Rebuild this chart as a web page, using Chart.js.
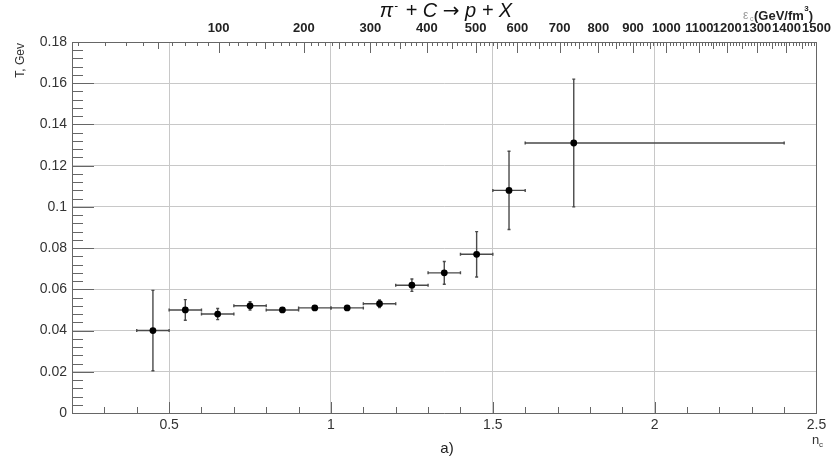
<!DOCTYPE html>
<html><head><meta charset="utf-8">
<script src="https://cdn.jsdelivr.net/npm/chart.js@4"></script>
<style>html,body{margin:0;padding:0;background:#fff}</style>
</head><body>
<canvas id="c" width="837" height="461"></canvas>
<script>
// ---- data ----
const nC    = [0.45, 0.55, 0.65, 0.75, 0.85, 0.95, 1.05, 1.15, 1.25, 1.35, 1.45, 1.55, 1.75];
const nLow  = [0.40, 0.50, 0.60, 0.70, 0.80, 0.90, 1.00, 1.10, 1.20, 1.30, 1.40, 1.50, 1.60];
const nHigh = [0.50, 0.60, 0.70, 0.80, 0.90, 1.00, 1.10, 1.20, 1.30, 1.40, 1.50, 1.60, 2.40];
const T     = [0.040, 0.050, 0.048, 0.052, 0.050, 0.051, 0.051, 0.053, 0.062, 0.068, 0.077, 0.108, 0.131];
const TErr  = [0.0195, 0.005, 0.0027, 0.002, 0.001, 0.001, 0.001, 0.0018, 0.003, 0.0055, 0.011, 0.019, 0.031];

const xTicks = [0.5, 1, 1.5, 2, 2.5];
const yTicks = [0, 0.02, 0.04, 0.06, 0.08, 0.1, 0.12, 0.14, 0.16, 0.18];
const epsLabels = [100, 200, 300, 400, 500, 600, 700, 800, 900, 1000, 1100, 1200, 1300, 1400, 1500];
const epsTickN  = [0.653, 0.916, 1.122, 1.296, 1.447, 1.576, 1.706, 1.826, 1.933, 2.036, 2.138, 2.224, 2.315, 2.407, 2.500];

const FONT = '"Liberation Sans", Arial, "DejaVu Sans", sans-serif';
const AXIS = '#666';

function epsToN(e) {
  let i = 0;
  while (i < epsLabels.length - 2 && e > epsLabels[i + 1]) i++;
  const s0 = Math.sqrt(epsLabels[i]), s1 = Math.sqrt(epsLabels[i + 1]);
  return epsTickN[i] + (Math.sqrt(e) - s0) / (s1 - s0) * (epsTickN[i + 1] - epsTickN[i]);
}

const bgPlugin = {
  id: 'bg',
  beforeDraw(chart) {
    const c = chart.ctx; c.save(); c.fillStyle = '#fff';
    c.fillRect(0, 0, chart.width, chart.height); c.restore();
  }
};

const errPlugin = {
  id: 'errbars',
  beforeDatasetsDraw(chart) {
    const c = chart.ctx, xs = chart.scales.x, ys = chart.scales.y;
    c.save();
    c.strokeStyle = '#4a4a4a'; c.lineWidth = 1.4;
    for (let i = 0; i < nC.length; i++) {
      const px = xs.getPixelForValue(nC[i]), py = ys.getPixelForValue(T[i]);
      const yt = ys.getPixelForValue(T[i] + TErr[i]), yb = ys.getPixelForValue(T[i] - TErr[i]);
      const xl = xs.getPixelForValue(nLow[i]), xr = xs.getPixelForValue(nHigh[i]);
      c.beginPath();
      c.moveTo(px, yt); c.lineTo(px, yb);
      c.moveTo(xl, py); c.lineTo(xr, py);
      c.moveTo(px - 1.5, yt); c.lineTo(px + 1.5, yt);
      c.moveTo(px - 1.5, yb); c.lineTo(px + 1.5, yb);
      c.moveTo(xl, py - 1.5); c.lineTo(xl, py + 1.5);
      c.moveTo(xr, py - 1.5); c.lineTo(xr, py + 1.5);
      c.stroke();
    }
    c.restore();
  }
};

const decoPlugin = {
  id: 'deco',
  afterDraw(chart) {
    const c = chart.ctx, a = chart.chartArea, xs = chart.scales.x, ys = chart.scales.y;
    c.save();
    c.strokeStyle = AXIS; c.lineWidth = 1;
    c.beginPath();
    c.moveTo(Math.round(a.right) - 0.5, a.top); c.lineTo(Math.round(a.right) - 0.5, a.bottom);
    for (let k = 3; k <= 24; k++) {
      const v = k / 10;
      const px = Math.round(xs.getPixelForValue(v)) + 0.5;
      const len = (k % 5 === 0) ? 11 : 6;
      c.moveTo(px, a.bottom); c.lineTo(px, a.bottom - len);
    }
    for (let k = 1; k < 45; k++) {
      const v = k * 0.004;
      const py = Math.round(ys.getPixelForValue(v)) + 0.5;
      const len = (k % 5 === 0) ? 22 : 11;
      c.moveTo(a.left, py); c.lineTo(a.left + len, py);
    }
    for (let e = 10; e < 1500; e += 10) {
      const n = epsToN(e);
      if (n < 0.2) continue;
      const px = Math.round(xs.getPixelForValue(n)) + 0.5;
      const len = (e % 100 === 0) ? 11 : (e % 50 === 0 ? 7 : 4);
      c.moveTo(px, a.top); c.lineTo(px, a.top + len);
    }
    c.stroke();

    // title
    c.fillStyle = '#111';
    c.textBaseline = 'alphabetic';
    c.textAlign = 'left';
    const big = 'italic 20px ' + FONT, sm = 'italic 11px ' + FONT;
    const arr = '20px "DejaVu Sans", sans-serif';
    c.font = big; const w1 = c.measureText('π').width;
    c.font = sm; const w2 = c.measureText('-').width + 3;
    c.font = big; const w3 = c.measureText(' + C ').width;
    c.font = arr; const w4 = c.measureText('\u2192').width;
    c.font = big; const w5 = c.measureText(' p + X').width;
    let tx = 446 - (w1 + w2 + w3 + w4 + w5) / 2;
    c.font = big; c.fillText('π', tx, 17); tx += w1;
    c.font = sm; c.fillText('-', tx + 1, 9); tx += w2;
    c.font = big; c.fillText(' + C ', tx, 17); tx += w3;
    c.font = arr; c.fillText('\u2192', tx, 17); tx += w4;
    c.font = big; c.fillText(' p + X', tx, 17);

    // top axis title
    c.fillStyle = '#999';
    c.font = '12px ' + FONT; c.fillText('ε', 743, 19);
    c.font = '7px ' + FONT; c.fillText('c', 750, 21);
    c.fillStyle = '#222';
    c.font = 'bold 13px ' + FONT;
    const p1 = '(GeV/fm';
    c.fillText(p1, 754, 20);
    const wp = c.measureText(p1).width;
    c.font = 'bold 8px ' + FONT; c.fillText('3', 754 + wp + 0.5, 11);
    c.font = 'bold 13px ' + FONT; c.fillText(')', 754 + wp + 5, 20);

    // y title
    c.save();
    c.translate(21, 43); c.rotate(-Math.PI / 2);
    c.textAlign = 'right'; c.textBaseline = 'middle';
    c.fillStyle = '#333'; c.font = '12px ' + FONT;
    c.fillText('T, Gev', 0, 0);
    c.restore();

    // x title
    c.fillStyle = '#333'; c.textAlign = 'left';
    c.font = '13px ' + FONT; c.fillText('n', 812, 444);
    c.font = '8px ' + FONT; c.fillText('c', 819, 447);

    // panel label
    c.textAlign = 'center'; c.fillStyle = '#222';
    c.font = '15px ' + FONT; c.fillText('a)', 447, 453);
    c.restore();
  }
};

new Chart(document.getElementById('c').getContext('2d'), {
  type: 'scatter',
  data: {
    datasets: [{
      data: nC.map((x, i) => ({ x: x, y: T[i] })),
      backgroundColor: '#000', borderColor: '#000',
      pointRadius: 3.4, pointHoverRadius: 3.4, borderWidth: 0
    }]
  },
  options: {
    responsive: false, animation: false, devicePixelRatio: 1,
    layout: { padding: { left: 0, right: 13.5, top: 0, bottom: 0 } },
    plugins: { legend: { display: false }, tooltip: { enabled: false } },
    scales: {
      x: {
        type: 'linear', position: 'bottom', min: 0.2, max: 2.5,
        afterBuildTicks: s => { s.ticks = xTicks.map(v => ({ value: v })); },
        afterFit: s => { s.height = 48; },
        grid: { color: '#c8c8c8', lineWidth: 1, drawTicks: false },
        border: { display: true, color: AXIS, width: 1 },
        ticks: { padding: 4, maxRotation: 0, autoSkip: false, color: '#333',
                 font: { family: FONT, size: 14 }, callback: v => String(v) }
      },
      x2: {
        type: 'linear', position: 'top', min: 0.2, max: 2.5,
        afterBuildTicks: s => { s.ticks = epsTickN.map(v => ({ value: v })); },
        afterFit: s => { s.height = 42; },
        grid: { display: false, drawOnChartArea: false, drawTicks: false },
        border: { display: true, color: AXIS, width: 1 },
        ticks: { padding: 6, maxRotation: 0, autoSkip: false, color: '#222',
                 font: { family: FONT, size: 13, weight: 'bold' },
                 callback: (v, i) => String(epsLabels[i]) }
      },
      y: {
        type: 'linear', position: 'left', min: 0, max: 0.18,
        afterBuildTicks: s => { s.ticks = yTicks.map(v => ({ value: v })); },
        afterFit: s => { s.width = 72; },
        grid: { color: '#c8c8c8', lineWidth: 1, drawTicks: false },
        border: { display: true, color: AXIS, width: 1 },
        ticks: { padding: 5, color: '#333', font: { family: FONT, size: 14 },
                 callback: v => String(+v.toFixed(2)) }
      }
    }
  },
  plugins: [bgPlugin, errPlugin, decoPlugin]
});
</script>
</body></html>
